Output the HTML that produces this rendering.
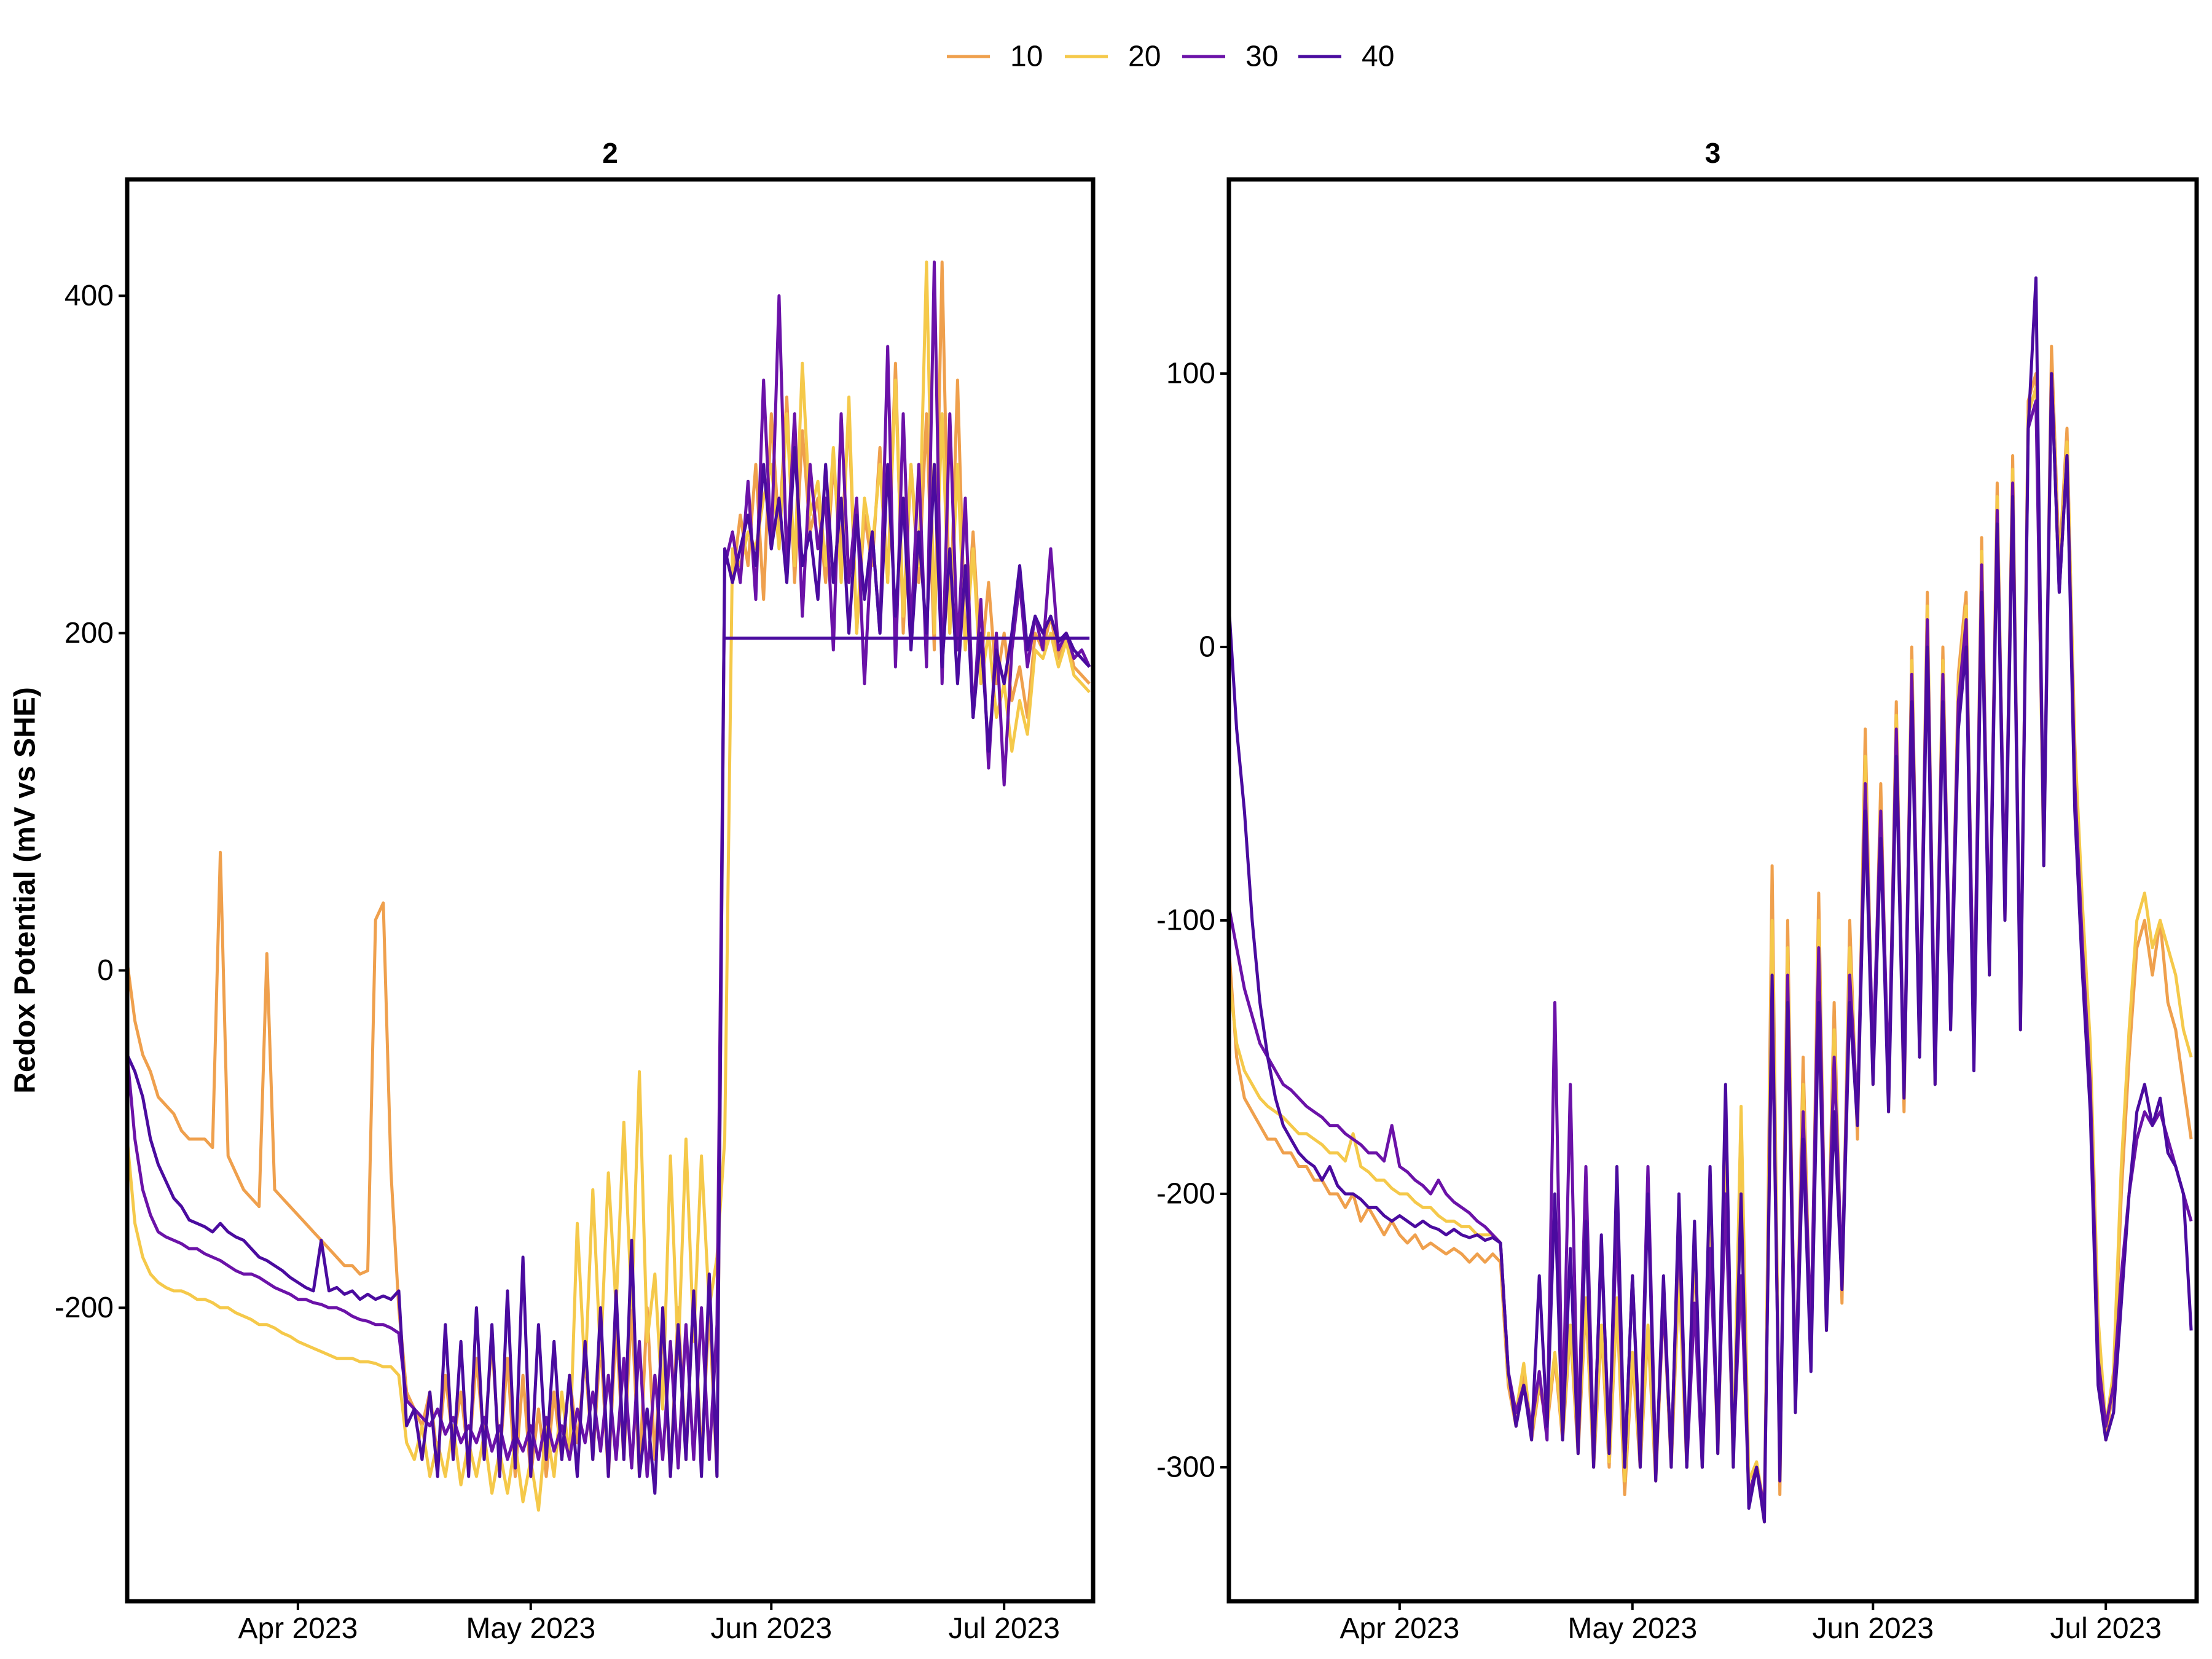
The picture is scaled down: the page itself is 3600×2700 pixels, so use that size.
<!DOCTYPE html>
<html><head><meta charset="utf-8"><style>
html,body{margin:0;padding:0;background:#fff;}
svg{display:block;font-family:"Liberation Sans",Arial,sans-serif;}
</style></head>
<body>
<svg id="chart" width="3600" height="2700" viewBox="0 0 3600 2700">
  <rect width="3600" height="2700" fill="#fff"/>
  <g id="legend"></g>
  <g id="p1"></g>
  <g id="p2"></g>
  <text x="41" y="1449" transform="rotate(-90 41 1449)" text-anchor="middle" dominant-baseline="central" font-size="48" font-weight="bold" fill="#000">Redox Potential (mV vs SHE)</text>
</svg>
<script>
// ---- data (day index 0 = Mar 10 2023, 1-day step) ----
const depths = ["10","20","30","40"];
const colors = ["#EFA04D","#F5C94A","#6B12A8","#4A0B9F"];
const monthTicks = [{label:"Apr 2023",day:22},{label:"May 2023",day:52},{label:"Jun 2023",day:83},{label:"Jul 2023",day:113}];
const p1Ticks = [-200,0,200,400];
const p2Ticks = [-300,-200,-100,0,100];
const p1Flat40 = [77,124,197];

const p1s10 = [5,-30,-50,-60,-75,-80,-85,-95,-100,-100,-100,-105,70,-110,-120,-130,-135,-140,10,-130,-135,-140,-145,-150,-155,-160,-165,-170,-175,-175,-180,-178,30,40,-120,-200,-250,-260,-270,-250,-290,-240,-280,-250,-290,-230,-280,-220,-290,-230,-300,-240,-300,-260,-300,-250,-290,-240,-280,-230,-290,-220,-300,-210,-290,-200,-300,-200,-290,-210,-300,-200,-290,-190,-290,-200,-300,250,230,270,240,300,220,330,260,340,230,320,260,280,230,300,250,330,200,270,240,310,230,360,200,300,230,330,190,420,200,350,190,260,180,230,170,200,160,180,150,200,190,210,185,200,180,175,170];
const p1s20 = [-100,-150,-170,-180,-185,-188,-190,-190,-192,-195,-195,-197,-200,-200,-203,-205,-207,-210,-210,-212,-215,-217,-220,-222,-224,-226,-228,-230,-230,-230,-232,-232,-233,-235,-235,-240,-280,-290,-270,-300,-280,-300,-270,-305,-280,-300,-275,-310,-285,-310,-280,-315,-290,-320,-270,-300,-250,-290,-150,-240,-130,-230,-120,-200,-90,-200,-60,-220,-180,-260,-110,-230,-100,-220,-110,-200,-170,-100,250,240,260,250,280,300,250,330,240,360,270,290,240,310,230,340,200,280,250,300,230,350,210,300,240,420,200,330,200,300,190,250,170,200,150,170,130,160,140,190,185,200,180,195,175,170,165];
const p1s30 = [-50,-100,-130,-145,-155,-158,-160,-162,-165,-165,-168,-170,-172,-175,-178,-180,-180,-182,-185,-188,-190,-192,-195,-195,-197,-198,-200,-200,-202,-205,-207,-208,-210,-210,-212,-215,-255,-260,-265,-270,-260,-275,-265,-280,-270,-280,-265,-285,-270,-290,-275,-285,-270,-290,-265,-285,-270,-290,-260,-280,-250,-285,-240,-290,-230,-295,-220,-300,-240,-290,-220,-295,-210,-290,-200,-290,-210,240,260,230,290,220,350,250,400,240,330,210,300,250,280,190,330,230,280,170,260,200,370,180,330,200,300,180,420,170,330,190,280,150,220,120,200,110,190,230,180,210,190,250,190,200,185,190,180];
const p1s40 = [-50,-60,-75,-100,-115,-125,-135,-140,-148,-150,-152,-155,-150,-155,-158,-160,-165,-170,-172,-175,-178,-182,-185,-188,-190,-160,-190,-188,-192,-190,-195,-192,-195,-193,-195,-190,-270,-260,-290,-250,-300,-210,-290,-220,-300,-200,-290,-210,-300,-190,-295,-170,-300,-210,-290,-220,-290,-240,-300,-220,-290,-200,-300,-190,-290,-160,-300,-260,-310,-200,-300,-210,-290,-190,-300,-180,-300,250,230,250,270,240,300,250,280,230,310,240,260,220,300,230,280,200,270,220,260,200,300,210,280,190,260,200,300,180,250,170,240,150,200,130,190,170,200,240,190,210,200,210,195,200,190,185,180];

const p2s10 = [-110,-150,-165,-170,-175,-180,-180,-185,-185,-190,-190,-195,-195,-200,-200,-205,-200,-210,-205,-210,-215,-210,-215,-218,-215,-220,-218,-220,-222,-220,-222,-225,-222,-225,-222,-225,-270,-285,-265,-290,-270,-285,-260,-290,-250,-295,-240,-300,-250,-300,-240,-310,-260,-300,-250,-305,-240,-300,-230,-300,-220,-300,-210,-295,-190,-300,-170,-310,-300,-320,-80,-310,-100,-280,-150,-260,-90,-250,-130,-240,-100,-180,-30,-160,-50,-170,-20,-170,0,-150,20,-160,0,-140,-10,20,-150,40,-120,60,-100,70,-140,90,100,-80,110,30,80,-40,-100,-150,-250,-290,-270,-200,-150,-110,-100,-120,-100,-130,-140,-160,-180];
const p2s20 = [-120,-145,-155,-160,-165,-168,-170,-172,-175,-178,-178,-180,-182,-185,-185,-188,-178,-190,-192,-195,-195,-198,-200,-200,-203,-205,-205,-208,-210,-210,-212,-212,-215,-215,-215,-218,-268,-280,-262,-288,-268,-282,-258,-288,-248,-292,-238,-298,-248,-298,-238,-305,-258,-298,-248,-302,-238,-298,-228,-298,-218,-298,-208,-292,-188,-298,-168,-305,-298,-315,-100,-305,-110,-275,-160,-258,-100,-248,-140,-235,-110,-175,-40,-155,-60,-165,-25,-165,-5,-148,15,-155,-5,-135,-15,15,-145,35,-115,55,-95,65,-135,85,95,-75,100,25,75,-35,-95,-145,-245,-285,-265,-190,-140,-100,-90,-110,-100,-110,-120,-140,-150];
const p2s30 = [-95,-110,-125,-135,-145,-150,-155,-160,-162,-165,-168,-170,-172,-175,-175,-178,-180,-182,-185,-185,-188,-175,-190,-192,-195,-197,-200,-195,-200,-203,-205,-207,-210,-212,-215,-218,-265,-280,-270,-285,-265,-290,-130,-285,-160,-290,-190,-295,-220,-290,-210,-300,-230,-295,-190,-300,-240,-295,-210,-300,-240,-300,-220,-290,-200,-295,-230,-310,-300,-315,-130,-300,-120,-270,-170,-250,-110,-240,-150,-230,-120,-170,-50,-150,-60,-160,-30,-160,-10,-140,10,-150,-10,-130,-20,10,-140,30,-110,50,-90,60,-130,80,90,-70,100,20,70,-50,-110,-160,-260,-285,-270,-230,-200,-180,-170,-175,-170,-180,-190,-200,-210];
const p2s40 = [15,-30,-60,-100,-130,-150,-165,-175,-180,-185,-188,-190,-195,-190,-197,-200,-200,-202,-205,-205,-208,-210,-208,-210,-212,-210,-212,-213,-215,-213,-215,-216,-215,-217,-216,-218,-265,-285,-270,-290,-230,-285,-200,-290,-220,-295,-210,-300,-215,-295,-190,-300,-230,-300,-200,-305,-230,-300,-200,-300,-210,-300,-190,-295,-160,-300,-200,-315,-300,-320,-120,-305,-130,-280,-180,-265,-130,-250,-170,-235,-130,-175,-60,-160,-70,-170,-40,-165,-20,-150,0,-160,-20,-140,-30,0,-155,20,-120,45,-100,55,-140,80,135,-80,100,20,70,-60,-120,-170,-270,-290,-280,-240,-200,-170,-160,-175,-165,-185,-190,-200,-250];

const panels = [
  {id:"p1", title:"2", x0:207, x1:1779, top:292, bot:2606, vTop:469, vBot:-374, ticks:p1Ticks, series:[p1s10,p1s20,p1s30,p1s40], flat:p1Flat40},
  {id:"p2", title:"3", x0:2000, x1:3575, top:292, bot:2606, vTop:171, vBot:-349, ticks:p2Ticks, series:[p2s10,p2s20,p2s30,p2s40], flat:null}
];

const NS = "http://www.w3.org/2000/svg";
function mk(tag, attrs, parent){
  const e = document.createElementNS(NS, tag);
  for (const k in attrs) e.setAttribute(k, attrs[k]);
  parent.appendChild(e);
  return e;
}
const PXDAY = 12.63;
panels.forEach(p => {
  const g = document.getElementById(p.id);
  const xs = d => p.x0 + d * PXDAY;
  const ys = v => p.top + (p.vTop - v) / (p.vTop - p.vBot) * (p.bot - p.top);
  const st = mk("text", {x:(p.x0+p.x1)/2, y:265, "text-anchor":"middle", "font-size":"46", "font-weight":"bold", fill:"#000"}, g);
  
  
  st.textContent = p.title;
  const clipId = "clip" + p.id;
  const cp = mk("clipPath", {id:clipId}, g);
  mk("rect", {x:p.x0, y:p.top, width:p.x1-p.x0, height:p.bot-p.top}, cp);
  const lines = mk("g", {"clip-path":"url(#"+clipId+")"}, g);
  
  
  p.series.forEach((arr, si) => {
    const pts = arr.map((v, i) => xs(i).toFixed(1) + "," + ys(v).toFixed(1)).join(" ");
    const pl = mk("polyline", {points:pts, fill:"none", stroke:colors[si], "stroke-width":"5", "stroke-linejoin":"round"}, lines);
    
    
  });
  if (p.flat) {
    const fl = mk("line", {x1:xs(p.flat[0]), x2:xs(p.flat[1]), y1:ys(p.flat[2]), y2:ys(p.flat[2]), stroke:colors[3], "stroke-width":"5"}, lines);
    
    
  }
  const fr = mk("rect", {x:p.x0, y:p.top, width:p.x1-p.x0, height:p.bot-p.top, fill:"none", stroke:"#000", "stroke-width":"7"}, g);
  
  
  p.ticks.forEach(t => {
    const y = ys(t);
    const tk = mk("line", {x1:p.x0-14, x2:p.x0, y1:y, y2:y, stroke:"#000", "stroke-width":"4"}, g);
    
    
    const tl = mk("text", {x:p.x0-22, y:y, "text-anchor":"end", "dominant-baseline":"central", "font-size":"48", fill:"#000"}, g);
    
    
    tl.textContent = t;
  });
  monthTicks.forEach(m => {
    const x = xs(m.day);
    const tk = mk("line", {x1:x, x2:x, y1:p.bot, y2:p.bot+14, stroke:"#000", "stroke-width":"4"}, g);
    
    
    const tl = mk("text", {x:x, y:p.bot+60, "text-anchor":"middle", "font-size":"48", fill:"#000"}, g);
    
    
    tl.textContent = m.label;
  });
});
const lg = document.getElementById("legend");
const legX = [1541, 1733, 1924, 2113];
depths.forEach((d, i) => {
  const eg = mk("g", {}, lg);
  
  
  mk("line", {x1:legX[i], x2:legX[i]+70, y1:92, y2:92, stroke:colors[i], "stroke-width":"5"}, eg);
  const t = mk("text", {x:legX[i]+103, y:92, "dominant-baseline":"central", "font-size":"48", fill:"#000"}, eg);
  t.textContent = d;
});
</script>
</body></html>
